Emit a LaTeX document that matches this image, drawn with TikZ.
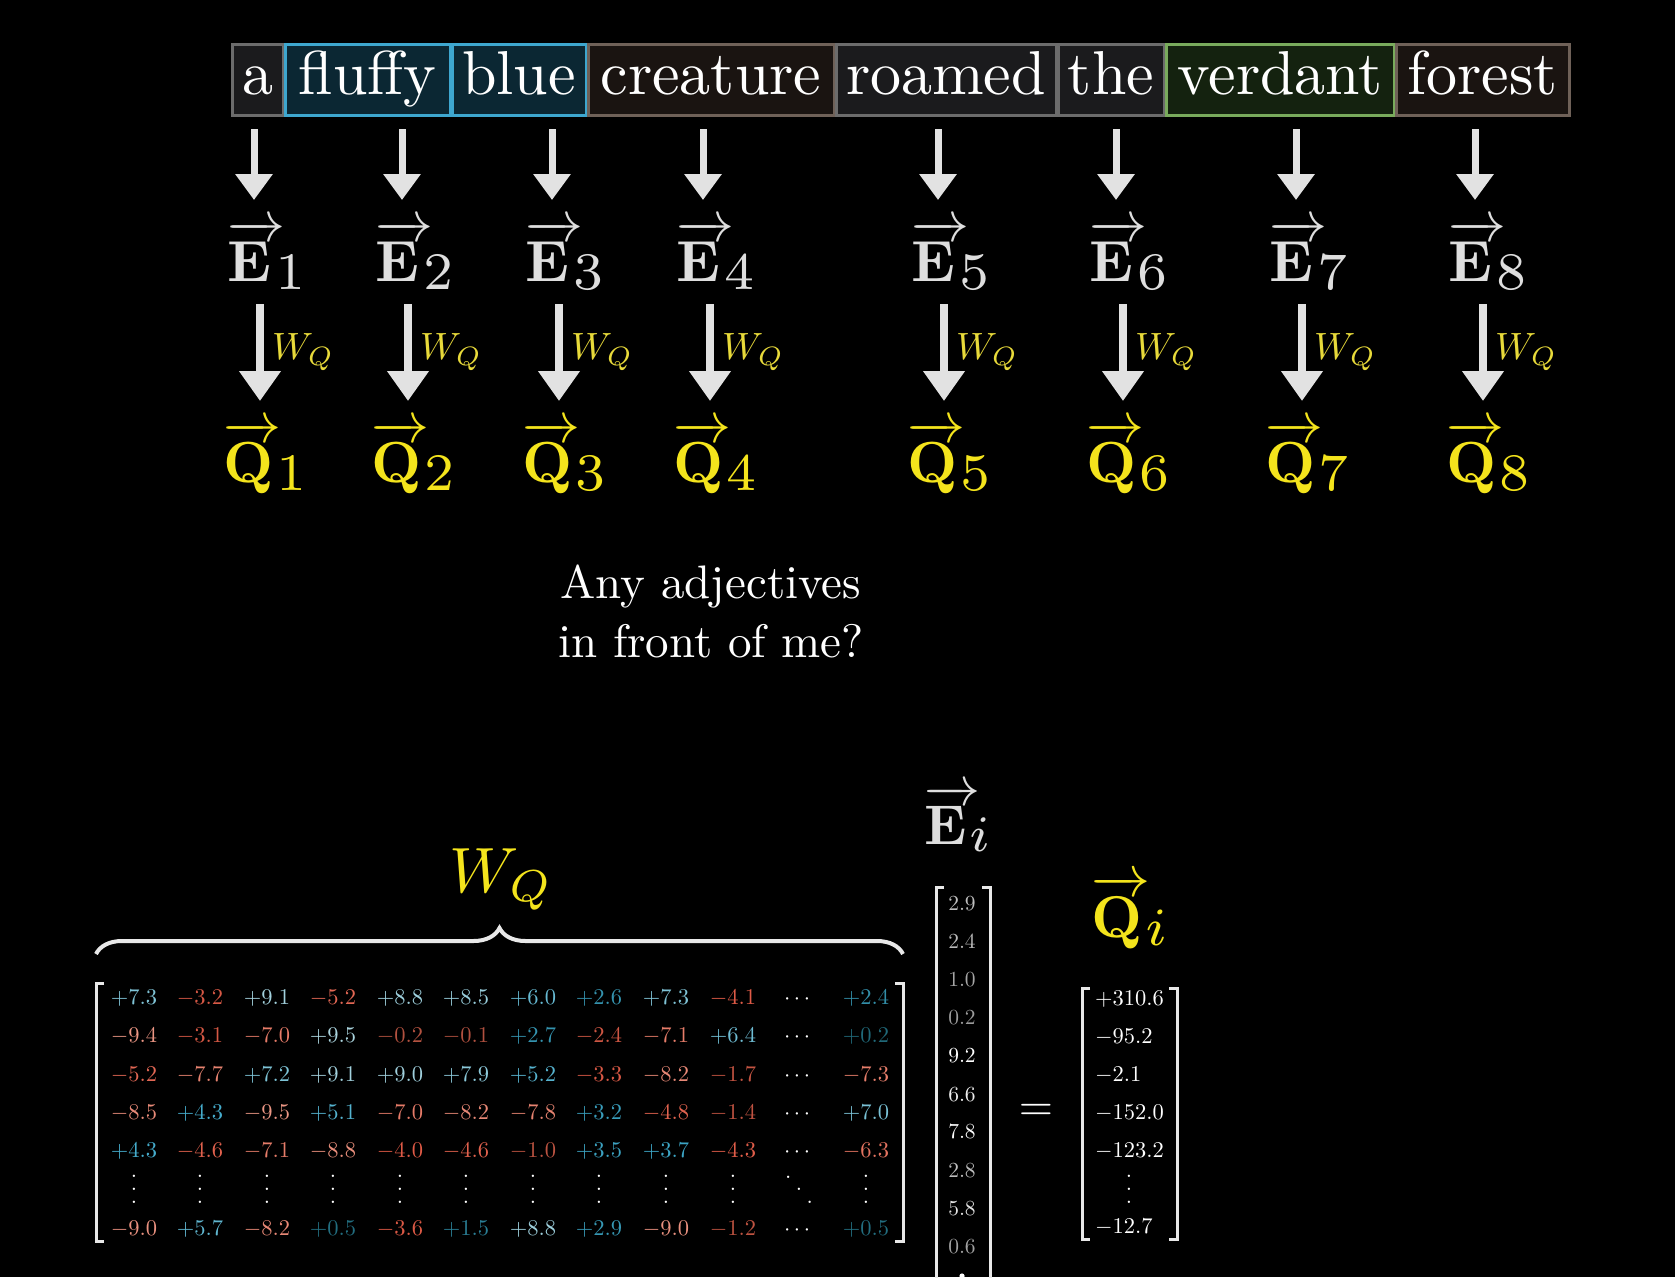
\documentclass[tikz,border=0pt]{standalone}
\usepackage{amsmath}
\usetikzlibrary{arrows.meta,decorations.pathreplacing}
\definecolor{bgc}{HTML}{000000}
\definecolor{arrgray}{HTML}{E2E2E2}
\definecolor{egray}{HTML}{DEDEDE}
\definecolor{yel}{HTML}{F4E41C}
\definecolor{yelsm}{HTML}{E8DA3A}
\definecolor{plo}{HTML}{1E6474}
\definecolor{pmid}{HTML}{3FAACB}
\definecolor{phi}{HTML}{B4D8E0}
\definecolor{nlo}{HTML}{B0503F}
\definecolor{nmid}{HTML}{E05A46}
\definecolor{nhi}{HTML}{EC9C8A}
\definecolor{gbd}{HTML}{6C6C6C}
\definecolor{gbf}{HTML}{1B1B1D}
\definecolor{bbd}{HTML}{3EA7CF}
\definecolor{bbf}{HTML}{0B2733}
\definecolor{brd}{HTML}{6F6158}
\definecolor{brf}{HTML}{1A1411}
\definecolor{grd}{HTML}{79AB5C}
\definecolor{grf}{HTML}{14220F}
\definecolor{brk}{HTML}{E8E8E8}
\newcommand\sbx[2]{\scalebox{#1}{#2}}
\newcommand\myvdots{\vbox{\baselineskip5.6pt\lineskiplimit0pt\hbox{.}\hbox{.}\hbox{.}}}
\newcommand\myddots{\hbox{\raisebox{11pt}{.}\kern2pt\raisebox{5.5pt}{.}\kern2pt\raisebox{0pt}{.}}}
\newcommand\vsub[2]{\makebox[0pt][l]{$\overrightarrow{\phantom{\mathbf{#1}}}$}$\mathbf{#1}$\kern0.6pt\raisebox{-1.4pt}{\scalebox{1.3}{$\scriptstyle #2$}}}
\newcommand\mcell[2]{%
  \if#1p\pgfmathsetmacro\wa{100-min(#2,4)*25}\pgfmathsetmacro\wb{100-max(#2-4,0)*100/6}\textcolor{plo!\wa!pmid!\wb!phi}{$+#2$}\fi
  \if#1n\pgfmathsetmacro\wa{100-min(#2,4)*25}\pgfmathsetmacro\wb{100-max(#2-4,0)*100/6}\textcolor{nlo!\wa!nmid!\wb!nhi}{$-#2$}\fi
  \if#1c\textcolor{white}{$\cdots$}\fi
  \if#1v\textcolor{white}{\myvdots}\fi
  \if#1d\textcolor{white}{\myddots}\fi}
\newcommand\ecell[1]{\pgfmathsetmacro\wg{min(100,60+5*#1)}\textcolor{white!\wg!black}{$#1$}}
\begin{document}
\begin{tikzpicture}[x=1pt,y=-1pt,
  wbox/.style={draw, line width=3pt, inner sep=0pt, anchor=base, text height=50pt, text depth=21pt, text=white},
  arrA/.style={draw=arrgray, line width=7pt, -{Triangle[width=36pt,length=26pt]}},
  arrB/.style={draw=arrgray, line width=8pt, -{Triangle[width=40pt,length=30pt]}},
  brkt/.style={draw=brk, line width=3pt},
  num/.style={anchor=base, inner sep=0pt}]
\fill[bgc] (0,0) rectangle (1675,1277);
\useasboundingbox (0,0) rectangle (1675,1277);
% words
\foreach \cx/\w/\word/\dc/\fc/\n in {257.5/51/a/gbd/gbf/1, 367.5/165/fluffy/bbd/bbf/2, 519/134/blue/bbd/bbf/3, 711/246/creature/brd/brf/4, 946/220/roamed/gbd/gbf/5, 1111/106/the/gbd/gbf/6, 1280/228/verdant/grd/grf/7, 1482.5/173/forest/brd/brf/8}
  \node[wbox, draw=\dc, fill=\fc, minimum width=\w pt] (w\n) at (\cx,94) {\sbx{6.2}{\word}};
% arrows and vectors
\foreach \n/\x/\xx in {1/254/260, 2/402/408, 3/552/559, 4/703/710, 5/938/944, 6/1116/1123, 7/1296/1302, 8/1475/1483} {
  \coordinate (p\n) at (\x,129);
  \coordinate (q\n) at (\x,200);
  \draw[arrA] (p\n) -- (q\n);
  \node[anchor=base west, inner sep=0pt, text=egray] (e\n) at (\x-5-21.4,281) {\sbx{5.8}{\vsub{E}{\n}}};
  \coordinate (r\n) at (\xx,304);
  \coordinate (s\n) at (\xx,401);
  \draw[arrB] (r\n) -- (s\n);
  \node[anchor=west, inner sep=0pt, text=yelsm] (wq\n) at (\xx+12,352) {\sbx{3.8}{$W_Q$}};
  \node[anchor=base west, inner sep=0pt, text=yel] (qq\n) at (\xx-12-25,482) {\sbx{5.8}{\vsub{Q}{\n}}};
}
% question
\node[anchor=base, text=white] (ask1) at (711,598) {\sbx{4.7}{Any adjectives}};
\node[anchor=base, text=white] (ask2) at (711,657) {\sbx{4.7}{in front of me?}};
% brace and W_Q
\draw[decorate, decoration={brace, amplitude=26pt}, line width=4pt, brk] (96,954) -- (903,954);
\node[anchor=base, text=yel, inner sep=0pt] (wbig) at (501,892) {\sbx{6.4}{$W_Q$}};
% matrix brackets
\draw[brkt] (104,983) -- (96,983) -- (96,1241) -- (104,1241);
\draw[brkt] (895,983) -- (903,983) -- (903,1241) -- (895,1241);
% matrix entries
\def\colx{{134,200,267,333,400,466,533,599,666,733,799,866}}
\foreach \r/\y/\row in {
 1/997/{p/7.3,n/3.2,p/9.1,n/5.2,p/8.8,p/8.5,p/6.0,p/2.6,p/7.3,n/4.1,c/0,p/2.4},
 2/1035/{n/9.4,n/3.1,n/7.0,p/9.5,n/0.2,n/0.1,p/2.7,n/2.4,n/7.1,p/6.4,c/0,p/0.2},
 3/1074/{n/5.2,n/7.7,p/7.2,p/9.1,p/9.0,p/7.9,p/5.2,n/3.3,n/8.2,n/1.7,c/0,n/7.3},
 4/1112/{n/8.5,p/4.3,n/9.5,p/5.1,n/7.0,n/8.2,n/7.8,p/3.2,n/4.8,n/1.4,c/0,p/7.0},
 5/1150/{p/4.3,n/4.6,n/7.1,n/8.8,n/4.0,n/4.6,n/1.0,p/3.5,p/3.7,n/4.3,c/0,n/6.3},
 6/1196/{v/0,v/0,v/0,v/0,v/0,v/0,v/0,v/0,v/0,v/0,d/0,v/0},
 7/1228/{n/9.0,p/5.7,n/8.2,p/0.5,n/3.6,p/1.5,p/8.8,p/2.9,n/9.0,n/1.2,c/0,p/0.5}} {
  \foreach \sg/\val [count=\ci] in \row {
    \pgfmathsetmacro\xc{\colx[\ci-1]}
    \node[num] (m\r-\ci) at (\xc,\y+7) {\sbx{2.25}{\mcell{\sg}{\val}}};
  }
}
% E_i vector
\node[anchor=base west, inner sep=0pt, text=egray] (ei) at (924,844) {\sbx{5.6}{\vsub{E}{i}}};
\draw[brkt] (944,887) -- (936,887) -- (936,1300);
\draw[brkt] (982,887) -- (990,887) -- (990,1300);
\foreach \k/\ev/\y in {1/2.9/903, 2/2.4/941, 3/1.0/979, 4/0.2/1017, 5/9.2/1055, 6/6.6/1094, 7/7.8/1131, 8/2.8/1170, 9/5.8/1208, 10/0.6/1246}
  \node[num] (ev\k) at (962,\y+7) {\sbx{2.15}{\ecell{\ev}}};
\fill[white] (962,1276) circle (2.6pt);
% equals
\node[text=white] (eq) at (1036,1112) {\sbx{4.4}{$=$}};
% Q_i vector
\node[anchor=base west, inner sep=0pt, text=yel] (qi) at (1091,937) {\sbx{5.9}{\vsub{Q}{i}}};
\draw[brkt] (1090,988) -- (1082,988) -- (1082,1239) -- (1090,1239);
\draw[brkt] (1169,988) -- (1177,988) -- (1177,1239) -- (1169,1239);
\foreach \k/\qv/\y in {1/+310.6/998, 2/-95.2/1036, 3/-2.1/1074, 4/-152.0/1112, 5/-123.2/1150, 7/-12.7/1226}
  \node[anchor=base west, inner sep=0pt, text=white] (qv\k) at (1095,\y+7) {\sbx{2.25}{$\qv$}};
\node[num, text=white] (qv6) at (1129,1203) {\sbx{2.25}{\myvdots}};
\end{tikzpicture}
\end{document}
